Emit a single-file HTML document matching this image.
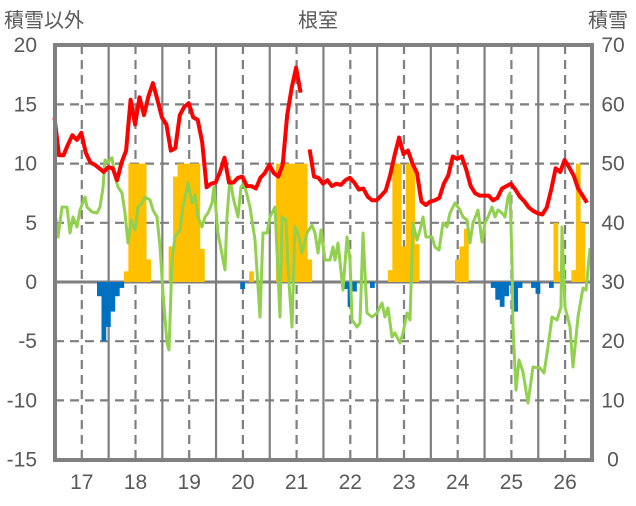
<!DOCTYPE html>
<html><head><meta charset="utf-8">
<style>
body{margin:0;background:#fff;}
svg text{font-family:"Liberation Sans","Noto Sans CJK JP",sans-serif;fill:#595959;}
</style></head>
<body>
<svg id="chart" width="636" height="501" viewBox="0 0 636 501" xmlns="http://www.w3.org/2000/svg">
<text x="318" y="27" font-size="20" text-anchor="middle">根室</text>
<text x="4" y="27" font-size="20">積雪以外</text>
<text x="588" y="27" font-size="20">積雪</text>
<g id="grid"></g>
<g id="bars"></g>
<g id="lines"></g>
<rect x="55" y="45" width="537" height="415" fill="none" stroke="#808080" stroke-width="4"/>
<g id="axes"></g>
</svg>
<script>
const yearLabels = ["17","18","19","20","21","22","23","24","25","26"];
const leftTicks = [20,15,10,5,0,-5,-10,-15];
const rightTicks = [70,60,50,40,30,20,10,0];
const redValues = [13.9,10.7,10.7,11.6,12.4,12.0,12.6,10.9,10.1,9.9,9.6,9.3,9.7,9.6,8.6,10.1,11.1,15.4,13.3,15.6,14.1,15.7,16.8,15.4,13.9,13.3,11.1,11.3,14.1,14.8,15.1,13.9,13.7,11.8,8.0,8.3,8.4,9.3,10.5,8.4,8.4,8.8,8.9,8.1,8.1,7.9,8.8,9.2,9.9,9.2,8.9,9.9,14.1,16.4,18.1,16.0,null,11.2,8.9,8.8,8.3,8.6,8.1,8.3,8.2,8.6,8.8,8.4,7.8,7.9,7.2,6.9,6.9,7.3,7.7,9.0,10.7,12.2,10.8,11.1,10.0,9.2,6.8,6.5,6.8,6.9,7.1,8.3,9.0,10.6,10.4,10.6,9.5,8.1,7.5,7.3,7.3,7.3,6.9,7.1,7.9,8.1,8.3,7.8,7.2,6.8,6.3,6.0,5.8,5.7,6.3,7.8,9.6,9.3,10.3,9.7,9.0,7.9,7.3,6.7];
const greenMonths = [0,0.78,1.68,2.79,3.46,4.13,5.03,5.7,6.82,7.26,8.38,9.5,10.17,10.84,11.28,11.96,12.85,13.52,14.19,15.08,15.75,16.42,17.09,17.99,18.66,19.55,20.22,21.34,22.01,22.91,23.58,24.25,25.14,25.59,26.26,26.93,28.04,28.72,29.83,30.73,31.4,32.07,32.96,33.63,34.3,35.2,35.64,36.54,38.1,38.55,39.22,39.89,41.01,41.68,42.35,43.69,44.8,45.92,46.59,47.49,48.16,49.27,50.39,50.84,51.73,52.18,53.07,53.74,54.41,55.31,56.42,57.54,58.21,58.88,59.55,60.45,61.56,62.23,62.68,63.35,64.47,65.36,66.03,66.48,67.6,68.27,68.94,69.83,70.95,72.07,73.18,73.85,74.53,75.42,76.09,77.21,77.88,78.77,79.44,80.11,81.01,81.68,82.35,83.02,84.36,85.03,85.92,86.82,87.71,88.38,89.5,90.61,91.28,92.18,92.85,93.52,94.64,95.53,96.2,96.87,97.77,98.44,99.11,100,100.67,101.34,101.79,102.23,102.46,103.13,103.8,104.69,105.81,106.93,108.49,109.39,110.28,111.17,112.29,113.18,113.41,114.08,115.2,115.87,116.98,118.1,118.77,119.66];
const greenValues = [6.25,3.8,6.33,6.33,4.14,5.49,4.65,6.08,7.18,6.33,5.91,5.83,6.33,7.94,10.3,10.1,10.5,8.87,8.02,7.52,5.83,3.29,5.24,4.39,6.33,6.67,7.18,6.93,6.08,5.49,2.96,-0.93,-5.15,-5.74,1.86,3.8,4.39,6.33,8.36,6.67,7.35,5.49,4.65,5.49,5.83,6.67,8.02,4.14,1.01,5.49,8.87,7.18,5.49,8.02,8.36,6.33,3.55,-2.96,4.14,4.14,5.49,6.33,-2.96,5.49,5.24,1.27,-3.8,4.65,4.14,2.45,4.14,4.81,4.14,2.45,4.39,1.86,1.86,2.96,1.86,3.29,-0.68,3.8,1.86,-3.21,-3.8,-3.46,4.14,-2.62,-2.96,-2.62,-1.77,-2.96,-2.2,-4.65,-4.31,-5.15,-4.31,-2.62,-3.21,4.98,3.55,4.39,5.49,3.8,3.8,2.96,2.7,4.98,4.65,5.83,6.67,6.08,5.49,5.24,3.29,4.98,6.08,3.38,4.98,5.49,6.33,5.49,6.08,5.83,5.49,7.18,7.52,1.86,-3.8,-9.12,-6.59,-7.6,-10.22,-7.18,-7.26,-7.69,-5.49,-2.96,-3.21,-2.11,4.65,-2.11,-3.8,-7.18,-2.96,-0.51,-0.68,2.87];
const barMonths = [10,11,12,13,14,15,16,17,18,19,20,21,26,27,28,29,30,31,32,33,42,44,50,51,52,53,54,55,56,57,65,66,67,71,75,76,77,78,79,80,81,90,91,92,98,99,100,101,102,103,104,107,108,111,112,113,116,117,118];
const barValues = [-1.2,-5.0,-3.8,-2.5,-1.2,-0.5,0.9,10,10,10,10,1.9,3,8.9,10,10,10,10,10,2.8,-0.6,0.9,10,10,10,10,10,10,10,1.9,-0.6,-2.1,-0.8,-0.5,1,10,10,3,10,10,3.2,1.9,3.0,4.5,-0.5,-1.5,-2.1,-1.2,-0.3,-2.5,-0.5,-0.5,-1.0,-0.5,5.0,0.9,1,10,5];

const NS="http://www.w3.org/2000/svg";
const X0=54.5, MW=4.475, Y0=282, PU=11.84;
function xScale(m){return X0+MW*m;}
function yScale(v){return Y0-v*PU;}
function yRight(v){return yScale((v-30)/2);}
function mk(tag,attrs,parent){const e=document.createElementNS(NS,tag);for(const k in attrs)e.setAttribute(k,attrs[k]);parent.appendChild(e);return e;}
const grid=document.getElementById('grid'),bars=document.getElementById('bars'),lines=document.getElementById('lines'),axes=document.getElementById('axes');
leftTicks.forEach(v=>{
  if(v===20||v===-15)return;
  const y=yScale(v);
  const l=mk('line',{x1:55,x2:592,y1:y,y2:y,stroke:'#7f7f7f','stroke-width':v===0?3:2.2,'stroke-dasharray':v===0?'none':'9 6'},grid);
  
  
});
yearLabels.forEach((lab,i)=>{
  const xc=xScale(6.1+12*i);
  const d=mk('line',{x1:xc,x2:xc,y1:45,y2:460,stroke:'#7f7f7f','stroke-width':2.2,'stroke-dasharray':'9 6'},grid);
  
  
  if(i<9){const xs=xScale(12.1+12*i);
    const s=mk('line',{x1:xs,x2:xs,y1:45,y2:460,stroke:'#7f7f7f','stroke-width':2.2},grid);
    
    }
  const t=mk('text',{x:xc,y:489,'font-size':21,'text-anchor':'middle'},axes);
  t.textContent=lab;
  
  
});
leftTicks.forEach(v=>{
  const t=mk('text',{x:37,y:yScale(v)+7,'font-size':21,'text-anchor':'end'},axes);
  t.textContent=String(v);
  
  
});
rightTicks.forEach(v=>{
  const t=mk('text',{x:613,y:yRight(v)+7,'font-size':21,'text-anchor':'middle'},axes);
  t.textContent=String(v);
  
  
});
barMonths.forEach((m,i)=>{
  const v=barValues[i];const y1=yScale(Math.max(v,0)),y2=yScale(Math.min(v,0));
  const r=mk('rect',{x:xScale(m)-MW/2,y:y1,width:MW+0.3,height:y2-y1,fill:v>=0?'#FFC000':'#0070C0'},bars);
  
  
});
let gd='';greenMonths.forEach((m,i)=>{gd+=(i?'L':'M')+xScale(m).toFixed(1)+' '+yScale(greenValues[i]).toFixed(1);});
const g=mk('path',{d:gd,fill:'none',stroke:'#92D050','stroke-width':3,'stroke-linejoin':'round'},lines);


let rd='',pen=false;redValues.forEach((v,i)=>{if(v===null){pen=false;return;}rd+=(pen?'L':'M')+xScale(i).toFixed(1)+' '+yScale(v).toFixed(1);pen=true;});
const r=mk('path',{d:rd,fill:'none',stroke:'#FF0000','stroke-width':4,'stroke-linejoin':'round'},lines);


</script>
</body></html>
